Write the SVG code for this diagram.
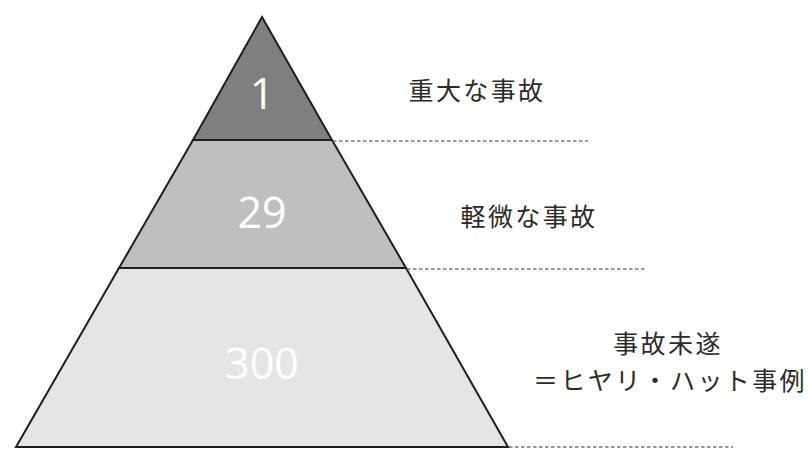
<svg xmlns="http://www.w3.org/2000/svg" width="808" height="449" viewBox="0 0 808 449">
<style>
.tier{stroke:#1e1e1e;stroke-width:2;stroke-linejoin:miter}
.num{font-family:"Open Sans","Noto Sans",sans-serif;font-size:43px;fill:#ffffff;text-anchor:middle}
.lbl{font-family:"Noto Sans CJK JP","Noto Sans",sans-serif;font-size:25px;letter-spacing:2.4px;fill:#2a2a2a;text-anchor:middle}
.dash{stroke:#777;stroke-width:1.3;stroke-dasharray:3.5 2.5;fill:none}
</style>
<rect width="808" height="449" fill="#ffffff"/>
<g id="tier-bottom">
<polygon class="tier" points="119,268 406,268 508,447 16,447" fill="#e6e4e6"/>
<text class="num" x="262" y="379">300</text>
</g>
<g id="tier-middle">
<polygon class="tier" points="193,140 332,140 406,268 119,268" fill="#bfbfbf"/>
<text class="num" x="262" y="228">29</text>
</g>
<g id="tier-top">
<polygon class="tier" points="262,17 332,140 193,140" fill="#7f7f7f"/>
<text class="num" x="262" y="109">1</text>
</g>
<g id="connectors">
<line class="dash" x1="333" y1="141" x2="588" y2="141"/>
<line class="dash" x1="407" y1="269" x2="645" y2="269"/>
<line class="dash" x1="509" y1="447" x2="733" y2="447"/>
</g>
<g id="label-top">
<text class="lbl" x="477" y="100">重大な事故</text>
</g>
<g id="label-middle">
<text class="lbl" x="529" y="226">軽微な事故</text>
</g>
<g id="label-bottom">
<text class="lbl" x="668" y="353">事故未遂</text>
<text class="lbl" x="670" y="390">＝ヒヤリ・ハット事例</text>
</g>
</svg>
